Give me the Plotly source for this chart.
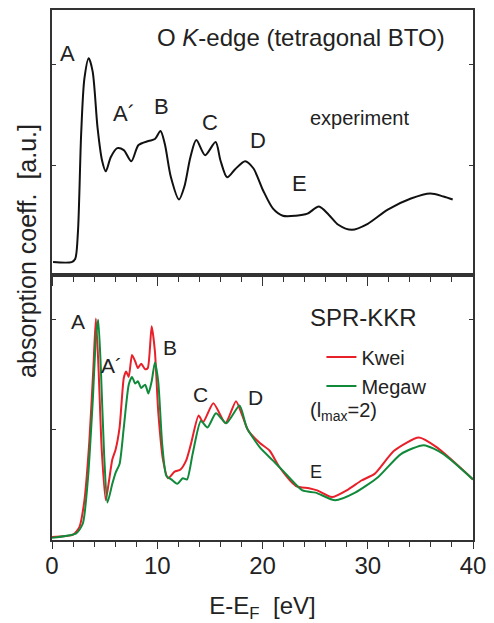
import plotly.graph_objects as go
from plotly.subplots import make_subplots

# ---- experiment (top panel) ----
exp_E = [0.1, 1.87, 2.2, 2.46, 2.77, 3.08, 3.49, 3.86, 4.33, 4.75, 5.11, 5.58, 6.2, 6.82, 7.54,
         8.22, 9.16, 9.78, 10.31, 10.72, 11.3, 12.06, 12.58, 13.15, 13.71, 14.55, 15.54, 16.0,
         16.64, 17.4, 18.35, 19.13, 20.06, 21.0, 21.93, 23.18, 24.27, 25.36, 26.29, 27.2, 28.5,
         30.0, 31.9, 34.1, 35.95, 37.2, 38.07]
exp_I = [0.04, 0.04, 0.07, 0.33, 1.31, 1.86, 2.06, 1.93, 1.37, 1.05, 0.94, 1.08, 1.17, 1.15, 1.04,
         1.2, 1.24, 1.26, 1.34, 1.21, 0.88, 0.66, 0.79, 1.08, 1.25, 1.10, 1.23, 1.05,
         0.88, 0.96, 1.04, 0.97, 0.75, 0.57, 0.50, 0.50, 0.52, 0.59, 0.51, 0.41, 0.36,
         0.42, 0.56, 0.67, 0.72, 0.69, 0.66]

# ---- SPR-KKR Kwei (red) ----
kwei_E = [0.0, 2.0, 2.6, 3.08, 3.55, 3.93, 4.17, 4.42, 4.73, 5.11, 5.42, 5.73, 6.04, 6.42, 6.82,
          7.04, 7.29, 7.6, 7.91, 8.16, 8.47, 8.85, 9.1, 9.47, 9.78, 10.09, 10.56, 11.03, 11.65,
          12.21, 12.74, 13.2, 13.93, 14.36, 15.33, 16.48, 17.48, 18.04, 18.66, 19.75, 20.68,
          21.62, 23.18, 24.42, 25.2, 26.6, 28.16, 29.4, 30.65, 32.5, 34.86, 36.57, 40.0]
kwei_I = [0.027, 0.048, 0.117, 0.36, 0.9, 1.56, 2.01, 1.56, 0.81, 0.36, 0.54, 0.73, 0.82, 1.02, 1.47,
          1.53, 1.48, 1.68, 1.62, 1.56, 1.6, 1.55, 1.56, 1.94, 1.71, 1.17, 0.72, 0.56, 0.62,
          0.64, 0.72, 0.87, 1.13, 1.07, 1.24, 1.06, 1.26, 1.14, 0.99, 0.88, 0.81,
          0.66, 0.49, 0.47, 0.45, 0.39, 0.46, 0.54, 0.60, 0.81, 0.93, 0.84, 0.55]

# ---- SPR-KKR Megaw (green) ----
megaw_E = [0.0, 2.3, 2.93, 3.4, 3.87, 4.17, 4.39, 4.64, 4.95, 5.27, 5.73, 6.04, 6.42, 6.82, 7.29,
           7.6, 7.91, 8.16, 8.47, 8.85, 9.16, 9.47, 9.78, 10.09, 10.47, 10.87, 11.34, 11.9, 12.43,
           12.83, 13.36, 14.14, 14.77, 15.58, 16.57, 17.82, 18.5, 19.75, 21.0, 21.93, 23.8, 25.05,
           26.9, 28.8, 30.97, 33.15, 35.33, 37.2, 40.0]
megaw_I = [0.02, 0.06, 0.15, 0.54, 1.26, 1.83, 2.00, 1.56, 0.78, 0.34, 0.51, 0.61, 0.69, 1.02, 1.41,
           1.48, 1.42, 1.44, 1.38, 1.41, 1.33, 1.44, 1.61, 1.44, 0.87, 0.58, 0.55, 0.51, 0.56,
           0.55, 0.78, 1.08, 1.02, 1.15, 1.06, 1.22, 1.02, 0.84, 0.72, 0.63, 0.45, 0.43,
           0.36, 0.43, 0.57, 0.78, 0.86, 0.78, 0.55]

FONT = "Liberation Sans"
AX = "#333333"
TXT = "#222222"

fig = make_subplots(rows=2, cols=1, shared_xaxes=True, vertical_spacing=0)

fig.add_trace(go.Scatter(x=exp_E, y=exp_I, mode="lines", line=dict(color="#111111", width=2, shape="spline", smoothing=0.8),
                         showlegend=False), row=1, col=1)
fig.add_trace(go.Scatter(x=kwei_E, y=kwei_I, mode="lines", name="Kwei",
                         line=dict(color="#e8202a", width=2, shape="spline", smoothing=0.6)), row=2, col=1)
fig.add_trace(go.Scatter(x=megaw_E, y=megaw_I, mode="lines", name="Megaw",
                         line=dict(color="#108a3a", width=2, shape="spline", smoothing=0.6)), row=2, col=1)

xcommon = dict(range=[0, 40], showline=True, linecolor=AX, linewidth=1.5, mirror=True,
               ticks="outside", tickcolor=AX, tickwidth=1.3, dtick=10, tick0=0,
               showgrid=False, zeroline=False)
fig.update_xaxes(**xcommon)
fig.update_xaxes(showticklabels=False, ticklen=9,
                 minor=dict(dtick=2, ticks="outside", ticklen=5, tickcolor=AX, tickwidth=1.2), row=1, col=1)
fig.update_xaxes(row=2, col=1, ticklen=7, ticklabelstandoff=-4,
                 minor=dict(dtick=2, ticks="outside", ticklen=5, tickcolor=AX, tickwidth=1.2),
                 tickfont=dict(family=FONT, size=24, color=TXT),
                 title=dict(text="E-E<sub>F</sub>\u00a0\u00a0[eV]", font=dict(family=FONT, size=24, color=TXT), standoff=20))

ycommon = dict(showline=True, linecolor=AX, linewidth=1.5, mirror="ticks", ticks="inside", ticklen=4,
               tickcolor=AX, tickwidth=1.2, tickvals=[1, 2], showticklabels=False, showgrid=False, zeroline=False)
fig.update_yaxes(**ycommon)
fig.update_yaxes(range=[-0.088, 2.539], row=1, col=1)
fig.update_yaxes(range=[0, 2.405], row=2, col=1)

fig.update_layout(
    xaxis3=dict(overlaying="x", anchor="y", side="top", range=[0, 40], dtick=2, tick0=0,
                ticks="outside", ticklen=3, tickcolor=AX, tickwidth=1.2, showticklabels=False,
                showline=False, showgrid=False, zeroline=False),
    width=494, height=623, margin=dict(l=52, r=14, t=8, b=80),
    plot_bgcolor="white", paper_bgcolor="white",
    font=dict(family=FONT, color=TXT),
    legend=dict(x=0.64, y=0.382, xanchor="left", yanchor="top", bgcolor="rgba(0,0,0,0)",
                font=dict(family=FONT, size=20, color=TXT), tracegroupgap=0),
)

def lab(x, y, text, xref, yref, size=22, xanchor="center"):
    fig.add_annotation(x=x, y=y, xref=xref, yref=yref, text=text, showarrow=False,
                       font=dict(family=FONT, size=size, color=TXT), xanchor=xanchor, yanchor="middle")

# top panel labels
lab(1.5, 2.11, "A", "x", "y")
lab(6.8, 1.51, "A\u00b4", "x", "y")
lab(10.4, 1.58, "B", "x", "y")
lab(15.0, 1.42, "C", "x", "y")
lab(19.6, 1.25, "D", "x", "y")
lab(23.5, 0.82, "E", "x", "y")
lab(9.8, 2.27, "O <i>K</i>-edge (tetragonal BTO)", "x", "y", size=24, xanchor="left")
lab(24.3, 1.47, "experiment", "x", "y", size=20, xanchor="left")

# bottom panel labels
lab(2.5, 1.98, "A", "x2", "y2", size=21)
lab(5.7, 1.58, "A\u00b4", "x2", "y2", size=21)
lab(11.2, 1.75, "B", "x2", "y2", size=21)
lab(14.1, 1.32, "C", "x2", "y2", size=21)
lab(19.35, 1.29, "D", "x2", "y2", size=21)
lab(25.1, 0.62, "E", "x2", "y2", size=18)
lab(24.3, 2.02, "SPR-KKR", "x2", "y2", size=24, xanchor="left")
lab(24.3, 1.17, "(l<sub>max</sub>=2)", "x2", "y2", size=20, xanchor="left")

# y title spanning both panels
fig.add_annotation(x=-0.06, y=0.545, xref="paper", yref="paper", text="absorption coeff.\u00a0\u00a0[a.u.]",
                   textangle=-90, showarrow=False, font=dict(family=FONT, size=25, color=TXT),
                   xanchor="center", yanchor="middle")

fig.write_html("out.html")
